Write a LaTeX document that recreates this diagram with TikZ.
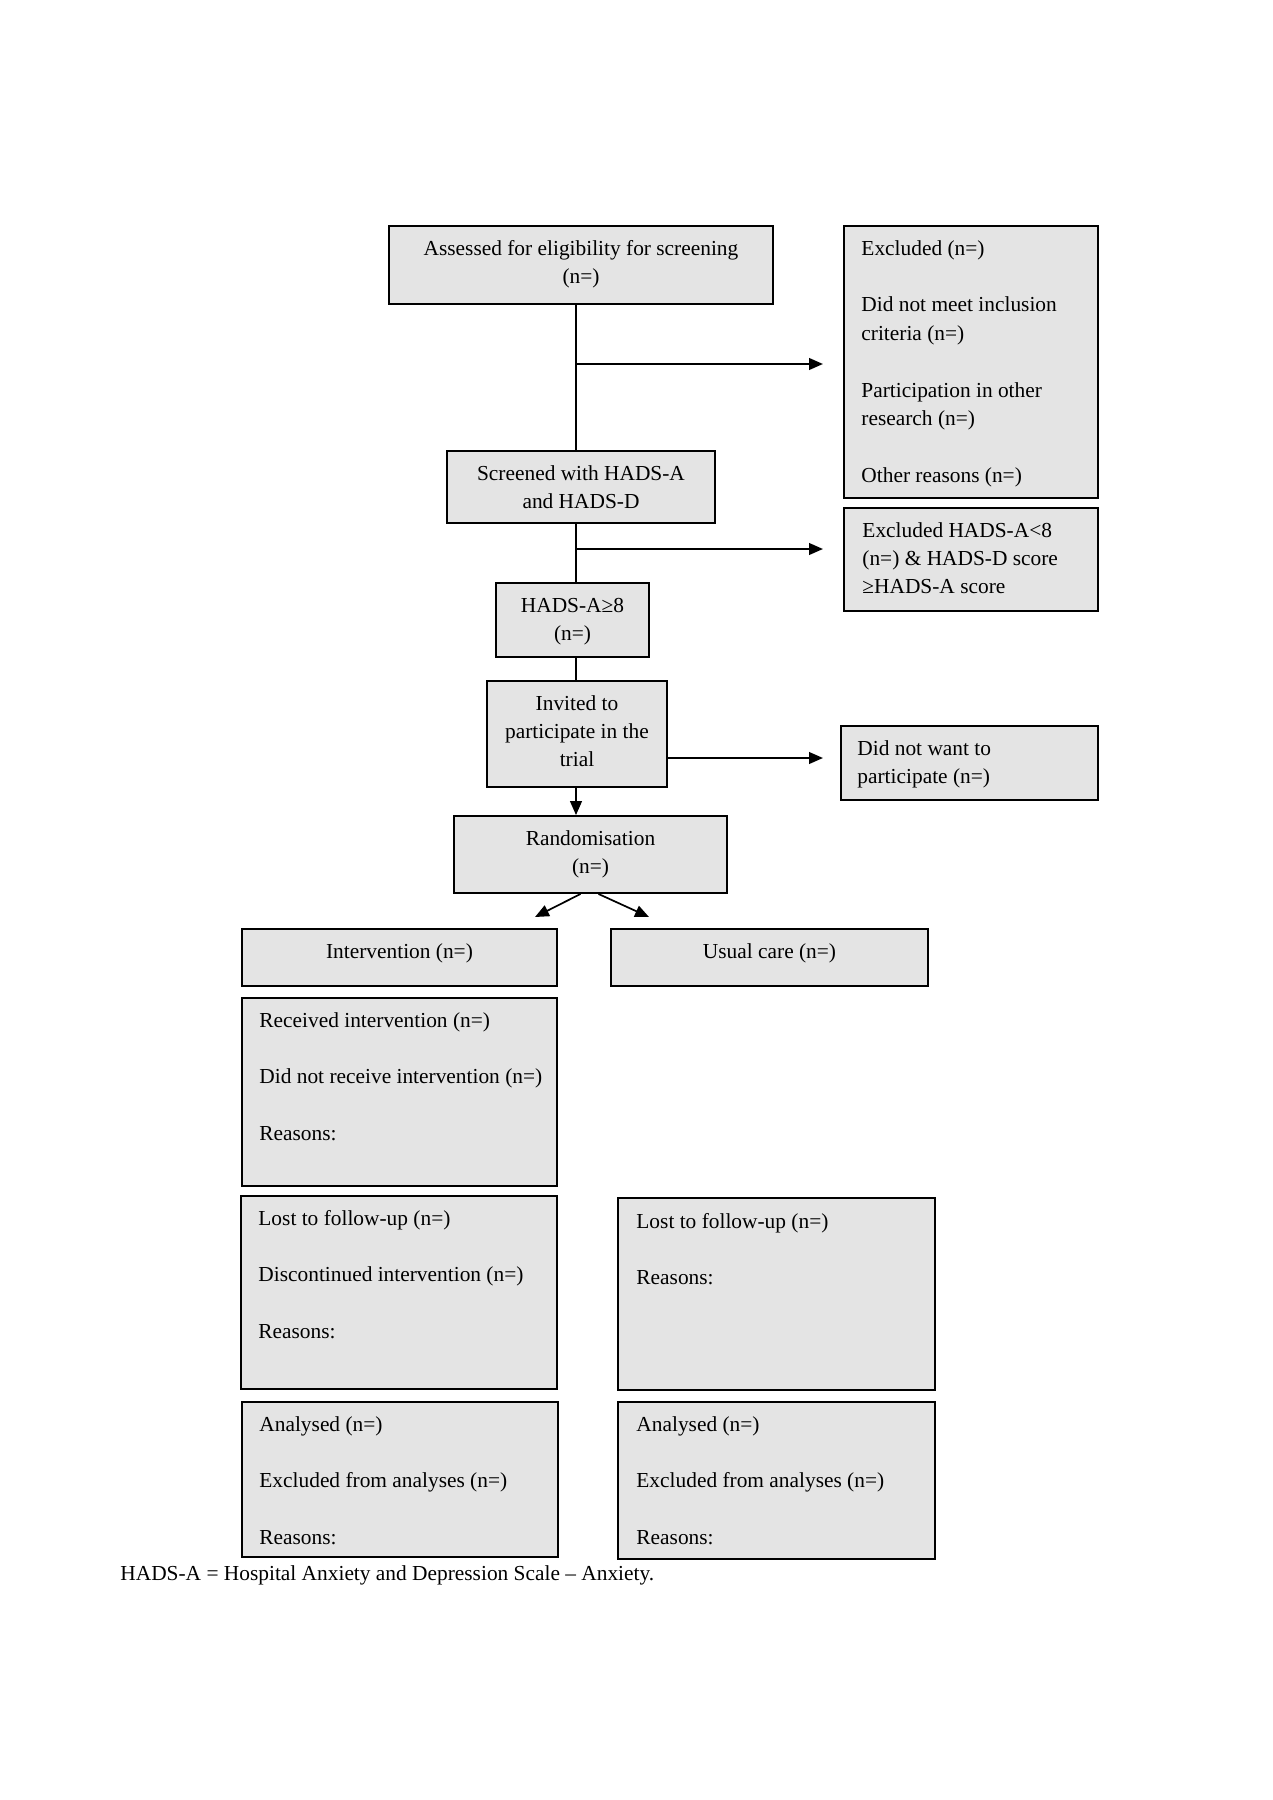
\documentclass[tikz,border=0pt]{standalone}
\usepackage{fontspec}
\setmainfont{Liberation Serif}
\usetikzlibrary{arrows.meta,fit,calc}
\definecolor{boxfill}{RGB}{228,228,228}
\newcommand\lefttext[1]{\parbox[t]{300pt}{\raggedright #1}}
\newcommand\centertext[1]{\parbox[t]{200pt}{\centering #1}}
\begin{document}
\begin{tikzpicture}[x=0.4677pt, y=-0.4677pt,
  font=\fontsize{10pt}{13.3pt}\selectfont,
  box/.style={draw, fill=boxfill, line width=0.9pt, inner sep=0pt},
  lbl/.style={inner sep=0pt, anchor=base west},
  clbl/.style={inner sep=0pt, anchor=base},
  conn/.style={line width=0.8pt},
  arr/.style={line width=0.8pt, -{Triangle[length=6.5pt,width=5.5pt]}}]
\useasboundingbox (0,0) rectangle (1273,1800);

% boxes
\node[box, fit={(389,226) (773,304)}] (assess) {};
\node[box, fit={(844,226) (1098,498)}] (excl1) {};
\node[box, fit={(447,451) (715,523)}] (screen) {};
\node[box, fit={(844,508) (1098,611)}] (excl2) {};
\node[box, fit={(496,583) (649,657)}] (hads) {};
\node[box, fit={(487,681) (667,787)}] (invite) {};
\node[box, fit={(841,726) (1098,800)}] (nowant) {};
\node[box, fit={(454,816) (727,893)}] (random) {};
\node[box, fit={(242,929) (557,986)}] (interv) {};
\node[box, fit={(611,929) (928,986)}] (usual) {};
\node[box, fit={(242,998) (557,1186)}] (recv) {};
\node[box, fit={(241,1196) (557,1389)}] (lostL) {};
\node[box, fit={(618,1198) (935,1390)}] (lostR) {};
\node[box, fit={(242,1402) (558,1557)}] (analL) {};
\node[box, fit={(618,1402) (935,1559)}] (analR) {};

% texts
\node[clbl] (assess-t) at (581,255) {\centertext{Assessed for eligibility for screening\\(n=)}};
\node[lbl] (excl1-t) at (861,255) {\lefttext{Excluded (n=)\\[\baselineskip]Did not meet inclusion\\criteria (n=)\\[\baselineskip]Participation in other\\research (n=)\\[\baselineskip]Other reasons (n=)}};
\node[clbl] (screen-t) at (581,480) {\centertext{Screened with HADS-A\\and HADS-D}};
\node[lbl] (excl2-t) at (862,537) {\lefttext{Excluded HADS-A<8\\(n=) \& HADS-D score\\≥HADS-A score}};
\node[clbl] (hads-t) at (572.5,612) {\centertext{HADS-A≥8\\(n=)}};
\node[clbl] (invite-t) at (577,710) {\centertext{Invited to\\participate in the\\trial}};
\node[lbl] (nowant-t) at (857,755) {\lefttext{Did not want to\\participate (n=)}};
\node[clbl] (random-t) at (590.5,845) {\centertext{Randomisation\\(n=)}};
\node[clbl] (interv-t) at (399.5,958) {\centertext{Intervention (n=)}};
\node[clbl] (usual-t) at (769.5,958) {\centertext{Usual care (n=)}};
\node[lbl] (recv-t) at (259,1027) {\lefttext{Received intervention (n=)\\[\baselineskip]Did not receive intervention (n=)\\[\baselineskip]Reasons:}};
\node[lbl] (lostL-t) at (258,1225) {\lefttext{Lost to follow-up (n=)\\[\baselineskip]Discontinued intervention (n=)\\[\baselineskip]Reasons:}};
\node[lbl] (lostR-t) at (636,1228) {\lefttext{Lost to follow-up (n=)\\[\baselineskip]Reasons:}};
\node[lbl] (analL-t) at (259,1431) {\lefttext{Analysed (n=)\\[\baselineskip]Excluded from analyses (n=)\\[\baselineskip]Reasons:}};
\node[lbl] (analR-t) at (636,1431) {\lefttext{Analysed (n=)\\[\baselineskip]Excluded from analyses (n=)\\[\baselineskip]Reasons:}};
\node[lbl] (note) at (120,1580) {HADS-A = Hospital Anxiety and Depression Scale -- Anxiety.};

% connectors
\coordinate (b1) at (576,364);
\coordinate (b2) at (576,549);
\coordinate (b3) at (700,758);
\coordinate (dl) at (535,917);
\coordinate (dr) at (649,917);
\draw[conn] (assess.south -| b1) -- (screen.north -| b1);
\draw[arr, shorten >=9.4pt] (b1) -- (b1 -| excl1.west);
\draw[conn] (screen.south -| b1) -- (hads.north -| b1);
\draw[arr, shorten >=9.4pt] (b2) -- (b2 -| excl2.west);
\draw[conn] (hads.south -| b1) -- (invite.north -| b1);
\draw[arr, shorten >=8pt] (invite.east |- b3) -- (b3 -| nowant.west);
\draw[arr] (invite.south -| b1) -- (random.north -| b1);
\draw[arr] ($(random.south)+(-10,0)$) -- (dl);
\draw[arr] ($(random.south)+(8,0)$) -- (dr);
\end{tikzpicture}
\end{document}
